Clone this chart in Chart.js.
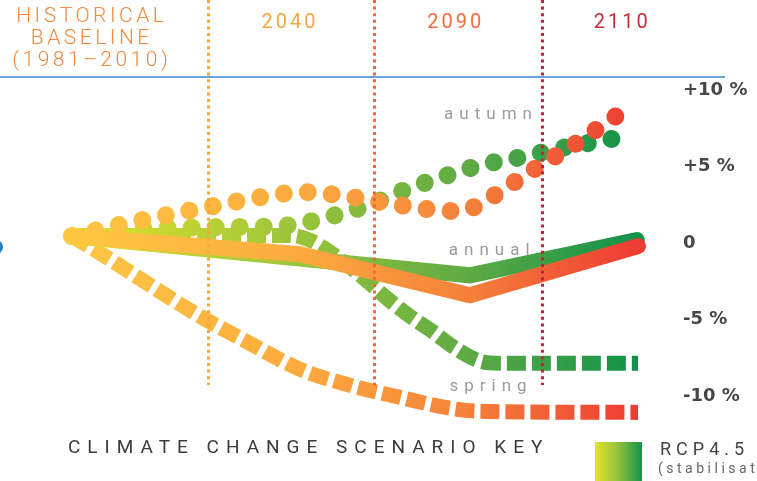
<!DOCTYPE html>
<html>
<head>
<meta charset="utf-8">
<script src="https://cdn.jsdelivr.net/npm/chart.js@4.4.0/dist/chart.umd.min.js"></script>
<style>
    html, body { margin: 0; padding: 0; background: #fff; }
    #wrap { width: 757px; height: 481px; position: relative; }
</style>
</head>
<body>
<div id="wrap"><canvas id="seasonChart"></canvas></div>
<script>
// position along the timeline: 0 = baseline, 100 = end of 2110
const periodLabels = ['2040', '2090', '2110'];
const periodLabelPos = [38.5, 67.8, 97.2];
const periodDividers = [24, 53.4, 83];
const yTicks = [-10, -5, 0, 5, 10];

// autumn (dots)
const autumnRcp45X = [0, 9, 18, 27, 36.4, 40.6, 44.7, 48.8, 52.6, 56.5, 60.2, 64.3, 68.6, 72.4, 76.5, 80.5, 84.8, 89.2, 93.3, 97.3];
const autumnRcp45Y = [0.46, 0.85, 1.0, 1.05, 1.1, 1.3, 1.63, 2.09, 2.48, 3.14, 3.66, 4.18, 4.71, 5.1, 5.42, 5.69, 6.08, 6.4, 6.67, 6.93];
const autumnRcp85X = [0, 9, 17.7, 25.8, 34.5, 40.7, 47, 55.7, 64.3, 68.6, 72.4, 76, 82.3, 89.2, 95.6, 99.1];
const autumnRcp85Y = [0.46, 1.24, 1.9, 2.48, 3.07, 3.33, 3.14, 2.61, 2.16, 2.09, 2.61, 3.46, 4.97, 6.54, 8.17, 8.95];

// annual (solid)
const annualRcp45X = [0, 70.3, 99.8];
const annualRcp45Y = [0.46, -2.1, 0.2];
const annualRcp85X = [0, 40.3, 70.3, 100];
const annualRcp85Y = [0.46, -0.72, -3.4, -0.2];

// spring (squares)
const springRcp45X = [0, 38.5, 42, 45.6, 50.9, 55.6, 59.7, 63.6, 67.7, 72.1, 75.6, 100];
const springRcp45Y = [0.5, 0.5, 0.2, -0.59, -2.09, -3.59, -4.77, -5.75, -6.86, -7.71, -7.84, -7.84];
const springRcp85X = [0, 4.95, 13.8, 22.6, 31.4, 40.3, 49.1, 58, 66.8, 72.1, 100];
const springRcp85Y = [0.46, -0.65, -2.75, -4.77, -6.54, -8.24, -9.28, -10.07, -10.78, -10.98, -11.05];

const seriesLabels = [
    { text: 'autumn', x: 73.5, y: 8.37 },
    { text: 'annual', x: 73.7, y: -0.51 },
    { text: 'spring', x: 73.5, y: -9.39 }
];

const greenStops = [[0, '#e3e22a'], [0.35, '#a4c83a'], [0.7, '#5eaa44'], [1, '#10924a']];
const orangeStops = [[0, '#fec743'], [0.4, '#fbab3e'], [0.7, '#f5803a'], [1, '#ee3b33']];
const dividerColors = ['#f8a63d', '#f2673b', '#c1233b'];
const headerColors = ['#f7a53e', '#f36c3c', '#c42d3e'];

function pts(xs, ys) {
    return xs.map((x, i) => ({ x: x, y: ys[i] }));
}

// gradiente horizontal ao longo da linha do tempo
function timeGradient(stops) {
    return function(c) {
        const chart = c.chart;
        if (!chart.chartArea) return stops[0][1];
        const x0 = chart.scales.x.getPixelForValue(0);
        const x1 = chart.scales.x.getPixelForValue(100);
        const g = chart.ctx.createLinearGradient(x0, 0, x1, 0);
        stops.forEach(s => g.addColorStop(s[0], s[1]));
        return g;
    };
}

const solid = { borderWidth: 16, borderCapStyle: 'round', borderJoinStyle: 'miter', tension: 0 };
const squares = { borderWidth: 15, borderDash: [19, 6], borderCapStyle: 'butt', cubicInterpolationMode: 'monotone' };
const dots = { borderWidth: 18, borderDash: [0.01, 24], borderCapStyle: 'round', cubicInterpolationMode: 'monotone' };

const extras = {
    id: 'extras',
    afterDatasetsDraw(chart) {
        const ctx = chart.ctx;
        const x = chart.scales.x, y = chart.scales.y;

        // dotted period dividers
        periodDividers.forEach((u, i) => {
            const px = Math.round(x.getPixelForValue(u)) + 0.5;
            ctx.save();
            ctx.strokeStyle = dividerColors[i];
            ctx.lineWidth = 3;
            ctx.setLineDash([3, 3.6]);
            ctx.beginPath();
            ctx.moveTo(px, 0);
            ctx.lineTo(px, y.getPixelForValue(-9.26));
            ctx.stroke();
            ctx.restore();
        });

        // season names
        ctx.save();
        ctx.fillStyle = '#9b9b9b';
        ctx.font = '17px Roboto';
        ctx.letterSpacing = '6px';
        ctx.textAlign = 'center';
        ctx.textBaseline = 'middle';
        seriesLabels.forEach(l => {
            ctx.fillText(l.text, x.getPixelForValue(l.x) + 3, y.getPixelForValue(l.y));
        });
        ctx.restore();
    },
    afterDraw(chart) {
        const ctx = chart.ctx;
        const x = chart.scales.x;

        ctx.save();
        // blue rule under the header
        ctx.strokeStyle = '#6ba4d7';
        ctx.lineWidth = 2;
        ctx.beginPath();
        ctx.moveTo(0, 77);
        ctx.lineTo(725, 77);
        ctx.stroke();

        // blue marker cut off at the left edge
        ctx.fillStyle = '#2a7cc6';
        ctx.beginPath();
        ctx.arc(-4, 247, 7, 0, Math.PI * 2);
        ctx.fill();

        ctx.textAlign = 'center';
        ctx.textBaseline = 'middle';
        ctx.font = '300 21px Roboto';
        ctx.letterSpacing = '3.5px';
        ctx.fillStyle = '#f5883b';
        const hx = x.getPixelForValue(3.5);
        ctx.fillText('HISTORICAL', hx, 17);
        ctx.fillText('BASELINE', hx, 39);
        ctx.fillText('(1981\u20132010)', hx, 61);

        ctx.font = '20px Roboto';
        ctx.letterSpacing = '3px';
        periodLabels.forEach((t, i) => {
            ctx.fillStyle = headerColors[i];
            ctx.fillText(t, x.getPixelForValue(periodLabelPos[i]), 23);
        });

        // scenario key
        ctx.textAlign = 'left';
        ctx.font = '19px Roboto';
        ctx.letterSpacing = '7px';
        ctx.fillStyle = '#3b3b3b';
        ctx.fillText('CLIMATE CHANGE SCENARIO KEY', 68, 448);

        const kg = ctx.createLinearGradient(595, 0, 642, 0);
        kg.addColorStop(0, '#e6e42a');
        kg.addColorStop(0.5, '#8fc03c');
        kg.addColorStop(1, '#12944a');
        ctx.fillStyle = kg;
        ctx.fillRect(595, 442, 47, 39);

        ctx.fillStyle = '#444';
        ctx.font = '18px Roboto';
        ctx.letterSpacing = '5px';
        ctx.fillText('RCP4.5', 660, 450);
        ctx.font = '14px Roboto';
        ctx.letterSpacing = '3.5px';
        ctx.fillStyle = '#666';
        ctx.fillText('(stabilisation scenario)', 658, 469);
        ctx.restore();
    }
};

const seasonChart = new Chart(document.getElementById('seasonChart'), {
    type: 'line',
    data: {
        datasets: [
            Object.assign({ label: 'annual RCP8.5', data: pts(annualRcp85X, annualRcp85Y), borderColor: timeGradient(orangeStops) }, solid),
            Object.assign({ label: 'annual RCP4.5', data: pts(annualRcp45X, annualRcp45Y), borderColor: timeGradient(greenStops) }, solid),
            Object.assign({ label: 'autumn RCP8.5', data: pts(autumnRcp85X, autumnRcp85Y), borderColor: timeGradient(orangeStops) }, dots),
            Object.assign({ label: 'autumn RCP4.5', data: pts(autumnRcp45X, autumnRcp45Y), borderColor: timeGradient(greenStops) }, dots),
            Object.assign({ label: 'spring RCP8.5', data: pts(springRcp85X, springRcp85Y), borderColor: timeGradient(orangeStops) }, squares),
            Object.assign({ label: 'spring RCP4.5', data: pts(springRcp45X, springRcp45Y), borderColor: timeGradient(greenStops) }, squares)
        ]
    },
    options: {
        responsive: true,
        maintainAspectRatio: false,
        animation: false,
        parsing: false,
        layout: { padding: { top: 80, bottom: 51, left: 0, right: 0 } },
        datasets: {
            line: { pointRadius: 0, fill: false, clip: false }
        },
        plugins: {
            legend: { display: false },
            tooltip: { enabled: false }
        },
        scales: {
            x: { type: 'linear', display: false, min: -12.72, max: 105.65 },
            y: {
                position: 'right',
                min: -12.2,
                max: 10.65,
                grid: { display: false, drawTicks: false },
                border: { display: false },
                afterBuildTicks: function(s) { s.ticks = yTicks.map(v => ({ value: v })); },
                afterFit: function(s) { s.width = 87; },
                ticks: {
                    padding: 13,
                    color: '#474747',
                    font: { family: 'DejaVu Sans', size: 18, weight: 'bold' },
                    callback: v => v === 0 ? '0' : (v > 0 ? '+' : '') + v + ' %'
                }
            }
        }
    },
    plugins: [extras]
});
</script>
</body>
</html>
